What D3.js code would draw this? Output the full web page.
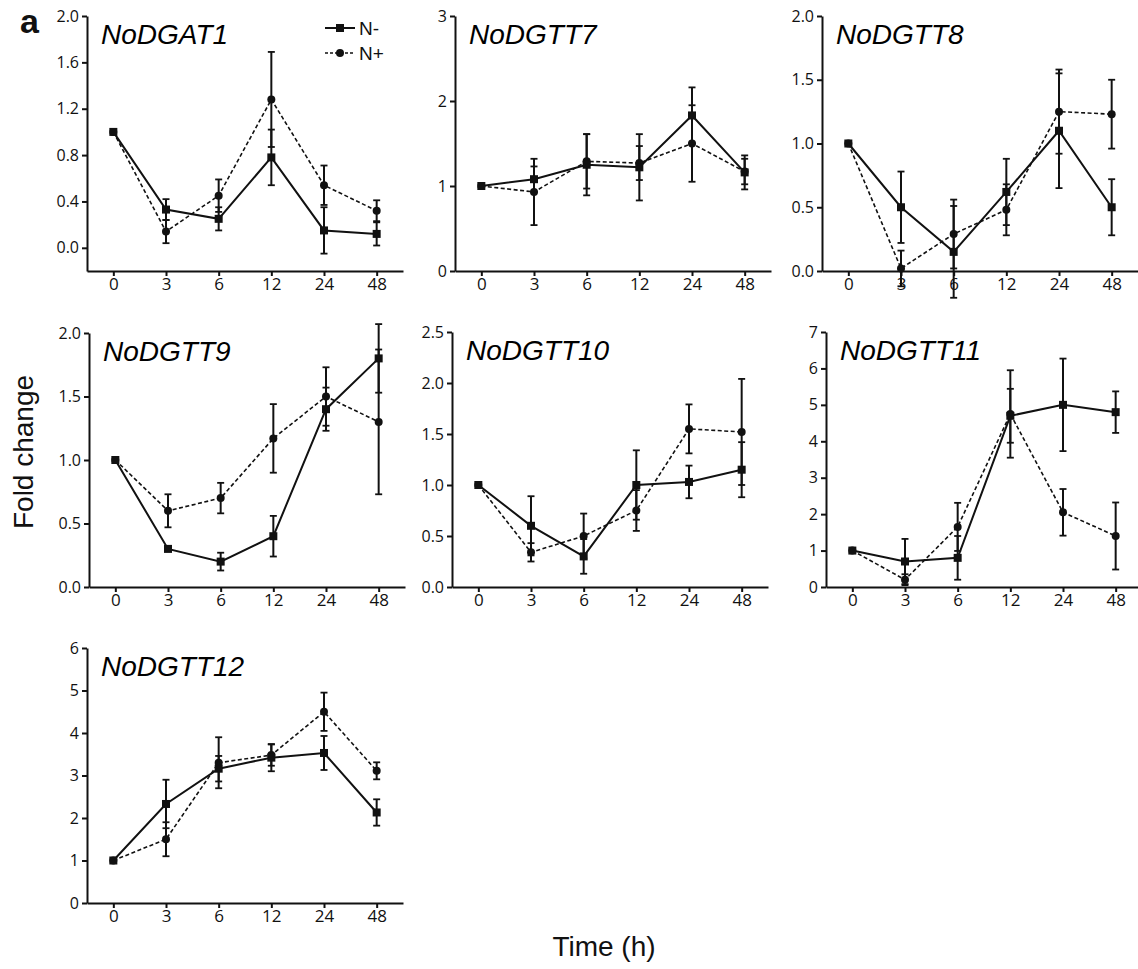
<!DOCTYPE html>
<html lang="en">
<head>
    <meta charset="UTF-8">
    <title>Fold change of NoDGAT / NoDGTT genes</title>
    <script src="https://d3js.org/d3.v7.min.js"></script>
    <style>
        body { margin: 0; background-color: #fff; }
        .domain, .tick line { stroke: #111; stroke-width: 2px; }
        .title { font-family: "Liberation Sans", Arial, sans-serif; font-style: italic; font-size: 28px; }
        .lab { font-family: "Liberation Sans", Arial, sans-serif; fill: #111; }
    </style>
</head>
<body>
    <svg id="fig" width="1138" height="969"></svg>
    <script>
        // sampling times (h)
        var times = ["0", "3", "6", "12", "24", "48"];

        // N- (solid, squares) and N+ (dashed, circles): means and error bars
        var dgat1Minus = [1.0, 0.33, 0.25, 0.78, 0.15, 0.12];
        var dgat1MinusErr = [0, 0.09, 0.10, 0.24, 0.20, 0.10];
        var dgat1Plus = [1.0, 0.14, 0.45, 1.28, 0.54, 0.32];
        var dgat1PlusErr = [0, 0.10, 0.14, 0.41, 0.17, 0.09];

        var dgtt7Minus = [1.0, 1.08, 1.25, 1.22, 1.83, 1.16];
        var dgtt7MinusErr = [0, 0.15, 0.36, 0.39, 0.33, 0.20];
        var dgtt7Plus = [1.0, 0.93, 1.29, 1.27, 1.50, 1.17];
        var dgtt7PlusErr = [0, 0.39, 0.32, 0.20, 0.45, 0.15];

        var dgtt8Minus = [1.0, 0.50, 0.15, 0.62, 1.10, 0.50];
        var dgtt8MinusErr = [0, 0.28, 0.36, 0.26, 0.45, 0.22];
        var dgtt8Plus = [1.0, 0.02, 0.29, 0.48, 1.25, 1.23];
        var dgtt8PlusErr = [0, 0.14, 0.27, 0.20, 0.33, 0.27];

        var dgtt9Minus = [1.0, 0.30, 0.20, 0.40, 1.40, 1.80];
        var dgtt9MinusErr = [0, 0.01, 0.07, 0.16, 0.17, 0.27];
        var dgtt9Plus = [1.0, 0.60, 0.70, 1.17, 1.50, 1.30];
        var dgtt9PlusErr = [0, 0.13, 0.12, 0.27, 0.23, 0.57];

        var dgtt10Minus = [1.0, 0.60, 0.30, 1.00, 1.03, 1.15];
        var dgtt10MinusErr = [0, 0.29, 0.17, 0.34, 0.16, 0.27];
        var dgtt10Plus = [1.0, 0.34, 0.50, 0.75, 1.55, 1.52];
        var dgtt10PlusErr = [0, 0.09, 0.22, 0.20, 0.24, 0.52];

        var dgtt11Minus = [1.0, 0.70, 0.80, 4.70, 5.00, 4.80];
        var dgtt11MinusErr = [0, 0.62, 0.60, 0.74, 1.27, 0.57];
        var dgtt11Plus = [1.0, 0.20, 1.65, 4.75, 2.05, 1.40];
        var dgtt11PlusErr = [0, 0.15, 0.66, 1.20, 0.64, 0.92];

        var dgtt12Minus = [1.0, 2.33, 3.16, 3.42, 3.53, 2.13];
        var dgtt12MinusErr = [0, 0.57, 0.30, 0.32, 0.40, 0.31];
        var dgtt12Plus = [1.0, 1.50, 3.30, 3.48, 4.50, 3.11];
        var dgtt12PlusErr = [0, 0.40, 0.60, 0.25, 0.45, 0.20];

        // panel table (positions are layout only)
        var panels = [
            { name: "NoDGAT1", minus: dgat1Minus, minusErr: dgat1MinusErr, plus: dgat1Plus, plusErr: dgat1PlusErr,
              yMin: -0.2, yMax: 2.0, step: 0.4, fmt: ".1f", left: 87, top: 16, bottom: 271 },
            { name: "NoDGTT7", minus: dgtt7Minus, minusErr: dgtt7MinusErr, plus: dgtt7Plus, plusErr: dgtt7PlusErr,
              yMin: 0, yMax: 3, step: 1, fmt: "d", left: 455, top: 16, bottom: 271 },
            { name: "NoDGTT8", minus: dgtt8Minus, minusErr: dgtt8MinusErr, plus: dgtt8Plus, plusErr: dgtt8PlusErr,
              yMin: 0, yMax: 2.0, step: 0.5, fmt: ".1f", left: 822, top: 16, bottom: 271 },
            { name: "NoDGTT9", minus: dgtt9Minus, minusErr: dgtt9MinusErr, plus: dgtt9Plus, plusErr: dgtt9PlusErr,
              yMin: 0, yMax: 2.0, step: 0.5, fmt: ".1f", left: 89, top: 333, bottom: 587 },
            { name: "NoDGTT10", minus: dgtt10Minus, minusErr: dgtt10MinusErr, plus: dgtt10Plus, plusErr: dgtt10PlusErr,
              yMin: 0, yMax: 2.5, step: 0.5, fmt: ".1f", left: 452, top: 332, bottom: 587 },
            { name: "NoDGTT11", minus: dgtt11Minus, minusErr: dgtt11MinusErr, plus: dgtt11Plus, plusErr: dgtt11PlusErr,
              yMin: 0, yMax: 7, step: 1, fmt: "d", left: 826, top: 332, bottom: 587 },
            { name: "NoDGTT12", minus: dgtt12Minus, minusErr: dgtt12MinusErr, plus: dgtt12Plus, plusErr: dgtt12PlusErr,
              yMin: 0, yMax: 6, step: 1, fmt: "d", left: 87, top: 648, bottom: 903 }
        ];
        var panelWidth = 316;

        var svg = d3.select("#fig");

        panels.forEach(function (p) {
            var x = d3.scalePoint().domain(times).range([p.left, p.left + panelWidth]).padding(0.5);
            var y = d3.scaleLinear().domain([p.yMin, p.yMax]).range([p.bottom, p.top]);
            var g = svg.append("g");

            var yTicks = d3.range(Math.max(0, p.yMin), p.yMax + 1e-9, p.step);
            g.append("g")
                .attr("transform", "translate(" + p.left + ",0)")
                .call(d3.axisLeft(y).tickValues(yTicks).tickFormat(d3.format(p.fmt))
                    .tickSize(5).tickSizeOuter(0).tickPadding(3))
                .attr("font-size", 16)
                .attr("font-family", "'Open Sans', sans-serif")
                .selectAll("text").attr("fill", "#111");

            g.append("g")
                .attr("transform", "translate(0," + p.bottom + ")")
                .call(d3.axisBottom(x).tickSize(5).tickSizeOuter(0).tickPadding(2))
                .attr("font-size", 17)
                .attr("font-family", "'Open Sans', sans-serif")
                .selectAll("text").attr("fill", "#111");

            g.append("text").attr("class", "title")
                .attr("x", p.left + 14).attr("y", p.top + 28)
                .text(p.name);

            var series = [
                { vals: p.plus, err: p.plusErr, dash: "4,2.5", width: 1.6, shape: "circle" },
                { vals: p.minus, err: p.minusErr, dash: null, width: 2, shape: "square" }
            ];

            series.forEach(function (s) {
                var pts = times.map(function (t, i) { return { t: t, v: s.vals[i], e: s.err[i] }; });
                var line = d3.line().x(function (d) { return x(d.t); }).y(function (d) { return y(d.v); });
                g.append("path").datum(pts)
                    .attr("d", line)
                    .attr("fill", "none")
                    .attr("stroke", "#111")
                    .attr("stroke-width", s.width)
                    .attr("stroke-dasharray", s.dash);

                var eb = g.selectAll(null).data(pts.filter(function (d) { return d.e > 0; })).enter().append("g");
                eb.append("line")
                    .attr("x1", function (d) { return x(d.t); }).attr("x2", function (d) { return x(d.t); })
                    .attr("y1", function (d) { return y(d.v - d.e); }).attr("y2", function (d) { return y(d.v + d.e); })
                    .attr("stroke", "#111").attr("stroke-width", 2);
                [-1, 1].forEach(function (sign) {
                    eb.append("line")
                        .attr("x1", function (d) { return x(d.t) - 3.5; }).attr("x2", function (d) { return x(d.t) + 3.5; })
                        .attr("y1", function (d) { return y(d.v + sign * d.e); }).attr("y2", function (d) { return y(d.v + sign * d.e); })
                        .attr("stroke", "#111").attr("stroke-width", 1.8);
                });

                if (s.shape === "circle") {
                    g.selectAll(null).data(pts).enter().append("circle")
                        .attr("cx", function (d) { return x(d.t); })
                        .attr("cy", function (d) { return y(d.v); })
                        .attr("r", 4).attr("fill", "#111");
                } else {
                    g.selectAll(null).data(pts).enter().append("rect")
                        .attr("x", function (d) { return x(d.t) - 4; })
                        .attr("y", function (d) { return y(d.v) - 4; })
                        .attr("width", 8).attr("height", 8).attr("fill", "#111");
                }
            });
        });

        // legend in the first panel
        var legend = svg.append("g").attr("transform", "translate(325,0)");
        legend.append("line").attr("x1", 0).attr("x2", 30).attr("y1", 28).attr("y2", 28)
            .attr("stroke", "#111").attr("stroke-width", 2);
        legend.append("rect").attr("x", 11).attr("y", 24).attr("width", 8).attr("height", 8).attr("fill", "#111");
        legend.append("line").attr("x1", 0).attr("x2", 30).attr("y1", 53).attr("y2", 53)
            .attr("stroke", "#111").attr("stroke-width", 1.6).attr("stroke-dasharray", "3,2");
        legend.append("circle").attr("cx", 15).attr("cy", 53).attr("r", 4).attr("fill", "#111");
        legend.append("text").attr("class", "lab").attr("x", 34).attr("y", 35).style("font-size", "19px").text("N-");
        legend.append("text").attr("class", "lab").attr("x", 34).attr("y", 60).style("font-size", "19px").text("N+");

        // panel letter and shared axis titles
        svg.append("text").attr("class", "lab").attr("x", 20).attr("y", 33)
            .style("font-size", "34px").style("font-weight", "bold").text("a");
        svg.append("text").attr("class", "lab")
            .attr("transform", "translate(33,452) rotate(-90)")
            .attr("text-anchor", "middle").style("font-size", "28px").text("Fold change");
        svg.append("text").attr("class", "lab")
            .attr("x", 604).attr("y", 956)
            .attr("text-anchor", "middle").style("font-size", "28px").text("Time (h)");
    </script>
</body>
</html>
